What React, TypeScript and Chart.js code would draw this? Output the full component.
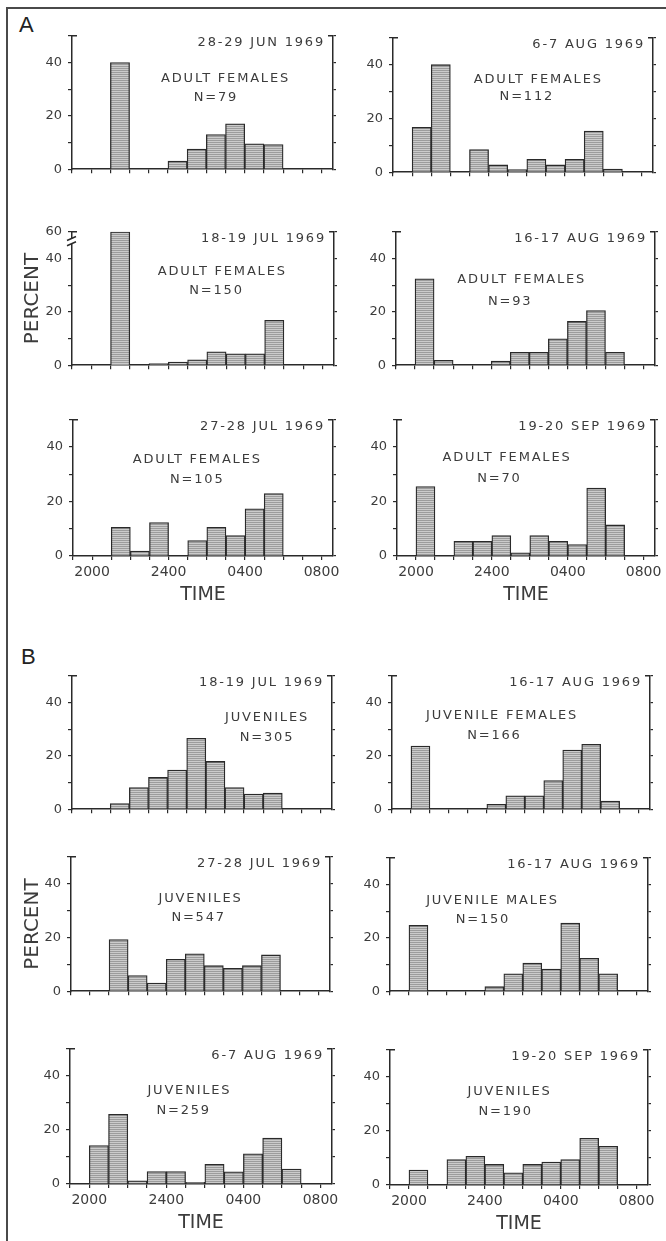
import React, { useEffect, useRef } from "react";
import { Chart, registerables } from "chart.js";

Chart.register(...registerables);

// ---------------- data ----------------
// hourly bins (start time of each one-hour bin)
const hourBins = ["2000", "2100", "2200", "2300", "2400", "0100", "0200", "0300", "0400", "0500", "0600", "0700"];
const timeTickHours = [0, 4, 8, 12];
const timeTickLabels = ["2000", "2400", "0400", "0800"];
const percentTickLabels = [0, 20, 40];

// A: adult females (percent per hourly bin)
const adultF_28_29Jun = [0, 40, 0, 0, 3, 7.5, 13, 17, 9.5, 9.2, 0, 0];
const adultF_6_7Aug = [16.7, 40, 0, 8.4, 2.7, 1, 4.8, 2.7, 4.8, 15.3, 1.2, 0];
const adultF_18_19Jul = [0, 60, 0, 0.6, 1.2, 2, 5, 4.3, 4.3, 16.8, 0, 0];
const adultF_16_17Aug = [32.4, 1.8, 0, 0, 1.5, 4.8, 4.8, 9.9, 16.4, 20.5, 4.8, 0];
const adultF_27_28Jul = [0, 10.5, 1.8, 12.3, 0, 5.7, 10.5, 7.5, 17.3, 22.9, 0, 0];
const adultF_19_20Sep = [25.5, 0, 5.4, 5.4, 7.5, 1.2, 7.5, 5.4, 4.2, 24.9, 11.4, 0];

// B: juveniles
const juv_18_19Jul = [0, 2.1, 8.1, 11.9, 14.7, 26.6, 17.9, 8.1, 5.7, 6, 0, 0];
const juvF_16_17Aug = [23.7, 0, 0, 0, 1.8, 5, 5, 10.7, 22.2, 24.3, 3, 0];
const juv_27_28Jul = [0, 19.2, 5.8, 3, 11.9, 13.9, 9.5, 8.5, 9.5, 13.5, 0, 0];
const juvM_16_17Aug = [24.7, 0, 0, 0, 1.7, 6.5, 10.5, 8.3, 25.5, 12.3, 6.5, 0];
const juv_6_7Aug = [14.2, 25.8, 1.2, 4.6, 4.6, 0.6, 7.3, 4.5, 11.2, 17, 5.5, 0];
const juv_19_20Sep = [5.5, 0, 9.4, 10.6, 7.6, 4.5, 7.6, 8.5, 9.4, 17.3, 14.3, 0];

// ---------------- layout / style ----------------
const FONT = '"DejaVu Sans", sans-serif';
const INK = "#2a2a2a";
const TEXT = "#3c3c3c";
const Y_MAX = 50;
const X_MIN = -1;
const X_MAX = 12.6;

type Box = { L: number; R: number; T: number; B: number };
type PanelDef = {
  date: string;
  group: string;
  n: string;
  values: number[];
  groupAt: [number, number];
  nAt: [number, number];
  box: Box;
  leftCol: boolean;
  bottom: boolean;
  percent: boolean;
  brokenTop?: number;
};

const panels: PanelDef[] = [
  { date: "28-29 JUN 1969", group: "ADULT FEMALES", n: "N=79", values: adultF_28_29Jun, groupAt: [7.0, 34], nAt: [6.5, 27], box: { L: 72, R: 333, T: 34, B: 173 }, leftCol: true, bottom: false, percent: false },
  { date: "6-7 AUG 1969", group: "ADULT FEMALES", n: "N=112", values: adultF_6_7Aug, groupAt: [6.6, 34.5], nAt: [6.0, 28], box: { L: 393, R: 653, T: 36, B: 176 }, leftCol: false, bottom: false, percent: false },
  { date: "18-19 JUL 1969", group: "ADULT FEMALES", n: "N=150", values: adultF_18_19Jul, groupAt: [6.8, 35], nAt: [6.5, 28], box: { L: 72, R: 334, T: 230, B: 369 }, leftCol: true, bottom: false, percent: true, brokenTop: 60 },
  { date: "16-17 AUG 1969", group: "ADULT FEMALES", n: "N=93", values: adultF_16_17Aug, groupAt: [5.6, 32], nAt: [5.0, 24], box: { L: 396, R: 655, T: 230, B: 369 }, leftCol: false, bottom: false, percent: false },
  { date: "27-28 JUL 1969", group: "ADULT FEMALES", n: "N=105", values: adultF_27_28Jul, groupAt: [5.5, 35.5], nAt: [5.5, 28], box: { L: 73, R: 333, T: 418, B: 556 }, leftCol: true, bottom: true, percent: false },
  { date: "19-20 SEP 1969", group: "ADULT FEMALES", n: "N=70", values: adultF_19_20Sep, groupAt: [4.8, 36], nAt: [4.4, 28.5], box: { L: 397, R: 655, T: 418, B: 556 }, leftCol: false, bottom: true, percent: false },
  { date: "18-19 JUL 1969", group: "JUVENILES", n: "N=305", values: juv_18_19Jul, groupAt: [9.2, 34.5], nAt: [9.2, 27], box: { L: 72, R: 332, T: 674, B: 813 }, leftCol: true, bottom: false, percent: false },
  { date: "16-17 AUG 1969", group: "JUVENILE FEMALES", n: "N=166", values: juvF_16_17Aug, groupAt: [4.8, 35], nAt: [4.4, 27.5], box: { L: 392, R: 650, T: 674, B: 813 }, leftCol: false, bottom: false, percent: false },
  { date: "27-28 JUL 1969", group: "JUVENILES", n: "N=547", values: juv_27_28Jul, groupAt: [5.8, 34.5], nAt: [5.7, 27.5], box: { L: 71, R: 330, T: 855, B: 995 }, leftCol: true, bottom: false, percent: true },
  { date: "16-17 AUG 1969", group: "JUVENILE MALES", n: "N=150", values: juvM_16_17Aug, groupAt: [4.4, 34], nAt: [3.9, 27], box: { L: 390, R: 648, T: 856, B: 995 }, leftCol: false, bottom: false, percent: false },
  { date: "6-7 AUG 1969", group: "JUVENILES", n: "N=259", values: juv_6_7Aug, groupAt: [5.2, 34.5], nAt: [4.9, 27], box: { L: 70, R: 332, T: 1047, B: 1184 }, leftCol: true, bottom: true, percent: false },
  { date: "19-20 SEP 1969", group: "JUVENILES", n: "N=190", values: juv_19_20Sep, groupAt: [5.3, 34.5], nAt: [5.1, 27], box: { L: 390, R: 648, T: 1048, B: 1185 }, leftCol: false, bottom: true, percent: false },
];

function makeHatch(ctx: CanvasRenderingContext2D) {
  const c = document.createElement("canvas");
  c.width = 4;
  c.height = 2;
  const g = c.getContext("2d")!;
  g.fillStyle = "#cbcbcb";
  g.fillRect(0, 0, 4, 2);
  g.fillStyle = "#9c9c9c";
  g.fillRect(0, 0, 4, 1);
  return ctx.createPattern(c, "repeat")!;
}

const panelDecor = {
  id: "panelDecor",
  afterDraw(chart: any, _args: any, opts: any) {
    const { ctx, chartArea: a, scales } = chart;
    const x = scales.x;
    const y = scales.y;
    ctx.save();
    // top brackets of the frame
    ctx.strokeStyle = INK;
    ctx.lineWidth = 1.5;
    ctx.beginPath();
    ctx.moveTo(a.left, a.top);
    ctx.lineTo(a.left + 5, a.top);
    ctx.moveTo(a.right, a.top);
    ctx.lineTo(a.right - 5, a.top);
    ctx.stroke();
    // axis break symbol
    if (opts.brokenTop) {
      const y1 = y.getPixelForValue(47.5);
      const y2 = y.getPixelForValue(45.5);
      ctx.fillStyle = "#fff";
      ctx.fillRect(a.left - 3, y1, 6, y2 - y1);
      ctx.beginPath();
      ctx.moveTo(a.left - 5, y1 + 2);
      ctx.lineTo(a.left + 4, y1 - 2);
      ctx.moveTo(a.left - 5, y2 + 2);
      ctx.lineTo(a.left + 4, y2 - 2);
      ctx.stroke();
    }
    // texts
    ctx.fillStyle = TEXT;
    ctx.font = `13px ${FONT}`;
    try {
      (ctx as any).letterSpacing = "1.8px";
    } catch (e) {}
    ctx.textBaseline = "middle";
    ctx.textAlign = "right";
    ctx.fillText(opts.date, a.right - 8, y.getPixelForValue(47.5));
    ctx.textAlign = "center";
    ctx.fillText(opts.group, x.getPixelForValue(opts.groupAt[0]), y.getPixelForValue(opts.groupAt[1]));
    ctx.fillText(opts.n, x.getPixelForValue(opts.nAt[0]), y.getPixelForValue(opts.nAt[1]));
    ctx.restore();
  },
};

function Panel({ p }: { p: PanelDef }) {
  const ref = useRef<HTMLCanvasElement>(null);
  const padL = p.leftCol ? p.box.L - 8 : 50;
  const padR = 20;
  const padT = 12;
  const padB = p.bottom ? 52 : 10;
  const width = p.box.R - p.box.L + padL + padR;
  const height = p.box.B - p.box.T + padT + padB;

  useEffect(() => {
    const canvas = ref.current!;
    const ctx = canvas.getContext("2d")!;
    const hatch = makeHatch(ctx);
    const hourTicks: number[] = [];
    for (let h = X_MIN; h <= 12; h++) hourTicks.push(h);
    // broken axis: values above the break are drawn at the axis top
    const shown = (v: number) => (p.brokenTop && v > Y_MAX ? Y_MAX : v);

    const chart = new Chart(canvas, {
      type: "bar",
      data: {
        datasets: [
          {
            label: p.group,
            data: hourBins.map((_, i) => ({ x: i + 0.5, y: shown(p.values[i]) })),
            backgroundColor: hatch,
            borderColor: INK,
            borderWidth: 1.3,
            barPercentage: 1,
            categoryPercentage: 1,
          } as any,
        ],
      },
      options: {
        responsive: false,
        animation: false,
        devicePixelRatio: 1,
        layout: { padding: { top: padT, left: 0, right: 0, bottom: 0 } },
        plugins: {
          legend: { display: false },
          tooltip: { enabled: false },
          panelDecor: { date: p.date, group: p.group, n: p.n, groupAt: p.groupAt, nAt: p.nAt, brokenTop: p.brokenTop },
        } as any,
        scales: {
          x: {
            type: "linear",
            min: X_MIN,
            max: X_MAX,
            offset: false,
            afterBuildTicks: (s: any) => {
              s.ticks = hourTicks.map((v) => ({ value: v }));
            },
            afterFit: (s: any) => {
              s.height = padB;
            },
            ticks: {
              display: p.bottom,
              autoSkip: false,
              maxRotation: 0,
              padding: 4,
              color: TEXT,
              font: { family: FONT, size: 14 },
              callback: (v: any) => {
                const i = timeTickHours.indexOf(Number(v));
                return i >= 0 ? timeTickLabels[i] : "";
              },
            },
            grid: { display: true, drawOnChartArea: false, drawTicks: true, tickLength: 4, color: INK, lineWidth: 1.2, offset: false },
            border: { display: true, color: INK, width: 1.5 },
            title: { display: p.bottom, text: "TIME", color: TEXT, font: { family: FONT, size: 19 }, padding: { top: 0, bottom: 2 } },
          },
          y: {
            type: "linear",
            position: "left",
            min: 0,
            max: Y_MAX,
            afterFit: (s: any) => {
              s.width = padL;
            },
            ticks: {
              stepSize: 10,
              padding: 6,
              color: TEXT,
              font: { family: FONT, size: 13 },
              callback: (v: any) => {
                const n = Number(v);
                if (n === Y_MAX && p.brokenTop) return String(p.brokenTop);
                return percentTickLabels.includes(n) ? String(n) : "";
              },
            },
            grid: { drawOnChartArea: false, drawTicks: true, tickLength: 4, color: INK, lineWidth: 1.2 },
            border: { display: true, color: INK, width: 1.5 },
            title: { display: p.percent, text: "PERCENT", color: TEXT, font: { family: FONT, size: 20 }, padding: { top: 13, bottom: 0 } },
          },
          yR: {
            type: "linear",
            position: "right",
            display: true,
            min: 0,
            max: Y_MAX,
            afterFit: (s: any) => {
              s.width = padR;
            },
            ticks: { display: false, stepSize: 10 },
            grid: { drawOnChartArea: false, drawTicks: true, tickLength: 3, color: INK, lineWidth: 1.2 },
            border: { display: true, color: INK, width: 1.5 },
          },
        } as any,
      },
      plugins: [panelDecor as any],
    });
    return () => chart.destroy();
  }, []);

  return (
    <canvas
      ref={ref}
      width={width}
      height={height}
      style={{ position: "absolute", left: p.box.L - padL, top: p.box.T - padT, width, height }}
    />
  );
}

export default function App() {
  return (
    <div style={{ position: "absolute", left: 0, top: 0, width: 666, height: 1241, background: "#fff", overflow: "hidden" }}>
      <div
        style={{
          position: "absolute",
          left: 6,
          top: 7,
          width: 670,
          height: 1250,
          borderLeft: "2px solid #4a4a4a",
          borderTop: "2px solid #4a4a4a",
        }}
      />
      <div style={{ position: "absolute", left: 19, top: 14, font: `22px "Liberation Sans", Arial, sans-serif`, lineHeight: "22px", color: "#222" }}>A</div>
      <div style={{ position: "absolute", left: 21, top: 646, font: `22px "Liberation Sans", Arial, sans-serif`, lineHeight: "22px", color: "#222" }}>B</div>
      {panels.map((p, i) => (
        <Panel key={i} p={p} />
      ))}
    </div>
  );
}
